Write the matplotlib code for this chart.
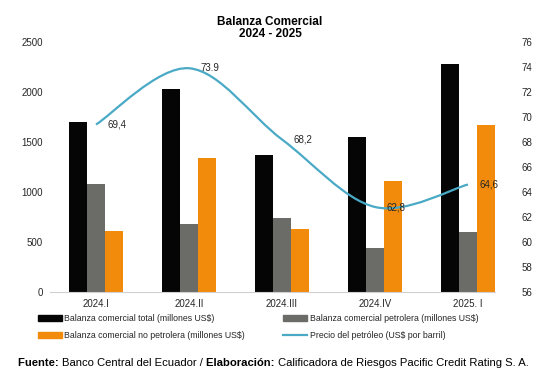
import numpy as np
import matplotlib
matplotlib.use("Agg")
import matplotlib.pyplot as plt
from matplotlib.path import Path
from matplotlib.patches import PathPatch, Patch
from matplotlib.lines import Line2D

plt.rcParams['font.family'] = ['Liberation Sans', 'DejaVu Sans']

#%% datos
trimestres = ["2024.I", "2024.II", "2024.III", "2024.IV", "2025. I"]
bc_total = [1700, 2030, 1375, 1555, 2285]
bc_petrolera = [1085, 685, 740, 440, 605]
bc_no_petrolera = [610, 1340, 635, 1115, 1675]
precio_petroleo = [69.4, 73.9, 68.2, 62.8, 64.6]
etiquetas_precio = ["69,4", "73.9", "68,2", "62,8", "64,6"]

c_total = "#050505"
c_petro = "#6b6b67"
c_nopetro = "#f28a0c"
c_precio = "#4aaac6"
c_txt = "#262626"

#%%
def smooth_path(xs, ys):
    # curva suavizada tipo Excel (Catmull-Rom -> Bezier)
    pts = np.column_stack([xs, ys])
    n = len(pts)
    verts = [pts[0]]
    codes = [Path.MOVETO]
    for i in range(n - 1):
        p0 = pts[i - 1] if i > 0 else pts[i]
        p1 = pts[i]
        p2 = pts[i + 1]
        p3 = pts[i + 2] if i + 2 < n else pts[i + 1]
        verts += [p1 + (p2 - p0) / 6, p2 - (p3 - p1) / 6, p2]
        codes += [Path.CURVE4] * 3
    return Path(verts, codes)


fig = plt.figure(figsize=(5.51, 3.79), dpi=100)
ax = fig.add_axes([50 / 551, 1 - 292 / 379, 445 / 551, 250 / 379])
ax2 = ax.twinx()

x = np.arange(len(trimestres))
w = 0.194
ax.bar(x - w, bc_total, w, color=c_total, zorder=2)
ax.bar(x, bc_petrolera, w, color=c_petro, zorder=2)
ax.bar(x + w, bc_no_petrolera, w, color=c_nopetro, zorder=2)

ax.set_xlim(-0.495, 4.29)
ax.set_ylim(0, 2500)
ax.set_yticks(range(0, 2501, 500))
ax.set_xticks(x)
ax.set_xticklabels(trimestres)

ax2.set_ylim(56, 76)
ax2.set_yticks(range(56, 77, 2))
ax2.add_patch(PathPatch(smooth_path(x, precio_petroleo), fill=False,
                        edgecolor=c_precio, lw=1.6, zorder=3))
for xi, yi, lab in zip(x, precio_petroleo, etiquetas_precio):
    ax2.annotate(lab, (xi, yi), xytext=(8.5, 0), textcoords="offset points",
                 ha="left", va="center", fontsize=7, color=c_txt)

for a in (ax, ax2):
    for s in a.spines.values():
        s.set_visible(False)
    a.tick_params(length=0, labelsize=7, colors=c_txt)
ax.spines['bottom'].set_visible(True)
ax.spines['bottom'].set_color("#d0d0d0")
ax.tick_params(axis='y', pad=5)
ax.tick_params(axis='x', pad=5)
ax2.tick_params(axis='y', pad=19)

fig.text(0.49, 1 - 28 / 379, "Balanza Comercial\n2024 - 2025", ha="center", va="center",
         fontsize=8.5, fontweight="bold", linespacing=1.1)

handles = [Patch(color=c_total), Patch(color=c_nopetro),
           Patch(color=c_petro), Line2D([], [], color=c_precio, lw=1.6)]
labels = ["Balanza comercial total (millones US$)",
          "Balanza comercial no petrolera (millones US$)",
          "Balanza comercial petrolera (millones US$)",
          "Precio del petróleo (US$ por barril)"]
fig.legend(handles, labels, ncol=2, loc="upper left", bbox_to_anchor=(30 / 551, 1 - 306 / 379),
           frameon=False, fontsize=6.3, handlelength=2.7, handleheight=0.65,
           handletextpad=0.3, columnspacing=4.4, labelspacing=0.9, labelcolor=c_txt)

# pie de fuente con partes en negrita
partes = [("Fuente: ", "bold"), ("Banco Central del Ecuador / ", "normal"),
          ("Elaboración: ", "bold"),
          ("Calificadora de Riesgos Pacific Credit Rating S. A.", "normal")]
t = fig.text(18 / 551, 1 - 366 / 379, partes[0][0], fontsize=8.15, fontweight=partes[0][1],
             va="baseline", ha="left")
for txt, wt in partes[1:]:
    t = ax.annotate(txt, xy=(1, 0), xycoords=t, fontsize=8.15, fontweight=wt,
                    va="bottom", ha="left", annotation_clip=False)

fig.savefig("out.png", dpi=100)
